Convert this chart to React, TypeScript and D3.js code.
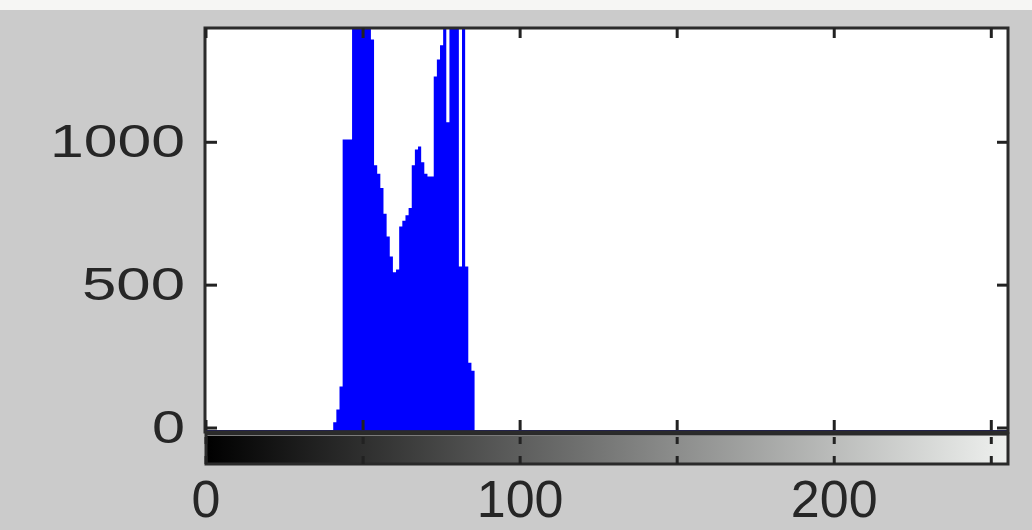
import React from "react";
import * as d3 from "d3";

// Histogram counts (imhist, 256 bins). Non-zero bins start at firstBin.
const firstBin = 41;
const binCounts = [
  20, 65, 145, 1010, 1010, 1010, 1500, 1500, 1500, 1500, 1500, 1500,
  1360, 920, 890, 840, 750, 670, 600, 545, 555, 705, 725, 745, 770,
  920, 975, 985, 930, 890, 880, 880, 1230, 1290, 1340, 1500, 1070,
  1500, 1500, 1500, 565, 1500, 565, 228, 200, 0,
];
const xTicks = [0, 50, 100, 150, 200, 250];
const xTickLabels = ["0", "100", "200"];
const yTicks = [0, 500, 1000];
const yTickLabels = ["0", "500", "1000"];
const xDomain = [0, 255];
const yDomain = [0, 1400];

const W = 1032;
const H = 530;
const plotL = 206;
const plotR = 1007;
const plotT = 28;
const plotB = 428;
const cbT = 434;
const cbB = 464;

export default function App() {
  const counts: number[] = new Array(256).fill(0);
  binCounts.forEach((v, i) => (counts[firstBin + i] = v));

  const x = d3.scaleLinear().domain(xDomain).range([plotL, plotR]);
  const y = d3.scaleLinear().domain(yDomain).range([plotB, plotT]);
  const bw = x(1) - x(0);

  // step outline: each bin spans [i-0.5, i+0.5]
  const pts: [number, number][] = [];
  counts.forEach((c, i) => {
    pts.push([i - 0.5, c]);
    pts.push([i + 0.5, c]);
  });
  const area = d3
    .area<[number, number]>()
    .x((d) => x(d[0]))
    .y0(plotB + 3)
    .y1((d) => (d[1] > 0 ? y(d[1]) : plotB + 3));

  const yLabelWidths: Record<string, number> = { "0": 33, "500": 103, "1000": 135 };

  return (
    <svg
      width={W}
      height={H}
      style={{ position: "absolute", left: 0, top: 0 }}
      fontFamily="'Liberation Sans', Arial, sans-serif"
    >
      <defs>
        <clipPath id="plotClip">
          <rect x={plotL} y={plotT} width={plotR - plotL} height={plotB - plotT + 4} />
        </clipPath>
        <linearGradient id="gray" x1="0" x2="1" y1="0" y2="0">
          <stop offset="0" stopColor="#000000" />
          <stop offset="1" stopColor="#eef0ee" />
        </linearGradient>
      </defs>
      <rect x={0} y={0} width={W} height={H} fill="#cbcbcb" />
      <rect x={0} y={0} width={W} height={10} fill="#f6f6f4" />
      {/* plot area */}
      <rect x={plotL} y={plotT} width={plotR - plotL} height={plotB - plotT + 3} fill="#ffffff" />
      <g clipPath="url(#plotClip)">
        <path d={area(pts) || ""} fill="#0000ff" />
      </g>
      {/* zero baseline */}
      <rect x={plotL} y={plotB + 2} width={plotR - plotL + 2} height={5} fill="#1b1b6a" />
      {/* colorbar */}
      <rect x={plotL} y={cbT + 2} width={plotR - plotL} height={cbB - cbT - 2} fill="url(#gray)" />
      <rect
        x={plotL}
        y={cbT}
        width={plotR - plotL + 1}
        height={cbB - cbT}
        fill="none"
        stroke="#2a2a2a"
        strokeWidth={3}
      />
      {xTicks.map((t) => (
        <g key={"cb" + t} stroke="#222" strokeWidth={3}>
          <line x1={x(t)} x2={x(t)} y1={cbB} y2={cbB - 8} />
          <line x1={x(t)} x2={x(t)} y1={cbT + 3} y2={cbT + 10} />
        </g>
      ))}
      {/* plot frame */}
      <rect
        x={plotL - 1}
        y={plotT}
        width={plotR - plotL + 2}
        height={plotB - plotT + 4}
        fill="none"
        stroke="#2b2b2b"
        strokeWidth={3}
      />
      {xTicks.map((t) => (
        <g key={"xt" + t} stroke="#222" strokeWidth={3}>
          <line x1={x(t)} x2={x(t)} y1={plotT} y2={plotT + 10} />
          <line x1={x(t)} x2={x(t)} y1={plotB + 2} y2={plotB - 8} />
        </g>
      ))}
      {yTicks.map((t) => (
        <g key={"yt" + t} stroke="#222" strokeWidth={3}>
          <line x1={plotL} x2={plotL + 11} y1={y(t)} y2={y(t)} />
          <line x1={plotR} x2={plotR - 10} y1={y(t)} y2={y(t)} />
        </g>
      ))}
      {/* y labels */}
      {yTicks.map((t, i) => (
        <text
          key={"yl" + t}
          x={185}
          y={y(t) + 15}
          textAnchor="end"
          fontSize={47}
          fill="#262626"
          textLength={yLabelWidths[yTickLabels[i]]}
          lengthAdjust="spacingAndGlyphs"
        >
          {yTickLabels[i]}
        </text>
      ))}
      {/* x labels */}
      {xTickLabels.map((l) => (
        <text
          key={"xl" + l}
          x={x(+l)}
          y={517}
          textAnchor="middle"
          fontSize={52}
          fill="#262626"
        >
          {l}
        </text>
      ))}
    </svg>
  );
}
